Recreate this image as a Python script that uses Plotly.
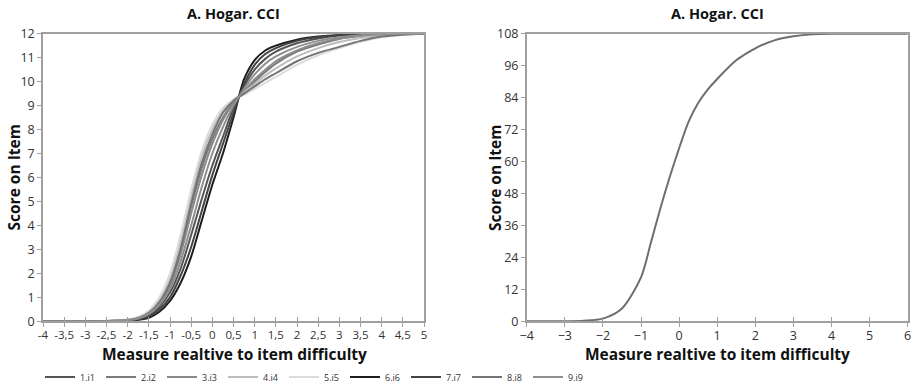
import plotly.graph_objects as go

# ---------------- data ----------------
x_grid = [-4, -3, -2.5, -2, -1.75, -1.5, -1.25, -1, -0.75, -0.5, -0.25, 0,
          0.25, 0.5, 0.75, 1, 1.25, 1.5, 2, 2.5, 3, 3.5, 4, 4.5, 5]

item_names = ["1.i1", "2.i2", "3.i3", "4.i4", "5.i5", "6.i6", "7.i7", "8.i8", "9.i9"]
item_colors = ["#555555", "#7a7a7a", "#8a8a8a", "#bdbdbd", "#dcdcdc",
               "#1e1e1e", "#444444", "#747474", "#8e8e8e"]

i1 = [0, 0, 0.01, 0.04, 0.10, 0.25, 0.60, 1.20, 2.20, 3.60, 5.10, 6.50,
      7.70, 8.90, 9.80, 10.50, 10.95, 11.25, 11.60, 11.80, 11.92, 11.97, 12, 12, 12]
i2 = [0, 0, 0.01, 0.06, 0.15, 0.35, 0.80, 1.60, 3.00, 4.80, 6.40, 7.60,
      8.50, 9.15, 9.60, 10.00, 10.40, 10.75, 11.25, 11.55, 11.78, 11.90, 11.96, 11.99, 12]
i3 = [0, 0, 0.01, 0.05, 0.13, 0.32, 0.75, 1.50, 2.80, 4.50, 6.10, 7.40,
      8.40, 9.10, 9.60, 10.10, 10.50, 10.85, 11.30, 11.60, 11.80, 11.92, 11.97, 12, 12]
i4 = [0, 0, 0.01, 0.06, 0.16, 0.40, 0.90, 1.80, 3.30, 5.20, 6.90, 8.00,
      8.80, 9.25, 9.55, 9.90, 10.25, 10.55, 11.05, 11.40, 11.65, 11.82, 11.93, 11.98, 12]
i5 = [0, 0, 0.02, 0.07, 0.18, 0.45, 1.00, 2.00, 3.60, 5.50, 7.10, 8.20,
      8.90, 9.25, 9.45, 9.70, 9.95, 10.20, 10.70, 11.10, 11.40, 11.65, 11.85, 11.95, 12]
i6 = [0, 0, 0, 0.02, 0.06, 0.15, 0.40, 0.85, 1.60, 2.70, 4.20, 5.70,
      7.00, 8.50, 10.10, 10.90, 11.30, 11.50, 11.75, 11.88, 11.95, 11.98, 12, 12, 12]
i7 = [0, 0, 0, 0.03, 0.08, 0.20, 0.50, 1.00, 1.90, 3.10, 4.60, 6.10,
      7.40, 8.70, 9.90, 10.70, 11.15, 11.40, 11.70, 11.86, 11.94, 11.98, 12, 12, 12]
i8 = [0, 0, 0.01, 0.05, 0.14, 0.35, 0.80, 1.60, 3.00, 4.90, 6.60, 7.80,
      8.70, 9.20, 9.50, 9.80, 10.10, 10.35, 10.85, 11.20, 11.45, 11.70, 11.88, 11.96, 12]
i9 = [0, 0, 0.01, 0.05, 0.12, 0.30, 0.70, 1.35, 2.50, 4.00, 5.60, 7.00,
      8.10, 9.00, 9.70, 10.30, 10.75, 11.05, 11.45, 11.70, 11.85, 11.94, 11.98, 12, 12]
items = [i1, i2, i3, i4, i5, i6, i7, i8, i9]

x_total = [-4, -3, -2.5, -2, -1.5, -1, -0.75, -0.5, -0.25, 0, 0.25, 0.5,
           0.75, 1, 1.5, 2, 2.5, 3, 3.5, 4, 5, 6]
y_total = [0, 0, 0.2, 1.0, 4.8, 16.5, 29, 42, 54, 65, 75, 82,
           87, 91, 98, 102.5, 105.5, 107, 107.8, 108, 108, 108]

left_xticks = [-4, -3.5, -3, -2.5, -2, -1.5, -1, -0.5, 0, 0.5, 1, 1.5, 2, 2.5, 3, 3.5, 4, 4.5, 5]
left_xlabels = ["-4", "-3,5", "-3", "-2,5", "-2", "-1,5", "-1", "-0,5", "0", "0,5",
                "1", "1,5", "2", "2,5", "3", "3,5", "4", "4,5", "5"]
left_yticks = list(range(0, 13))
right_xticks = list(range(-4, 7))
right_yticks = [0, 12, 24, 36, 48, 60, 72, 84, 96, 108]

title_text = "A. Hogar. CCI"
xtitle = "Measure realtive to item difficulty"
ytitle = "Score on Item"

# ---------------- figure ----------------
FONT = "Open Sans"
fig = go.Figure()

for name, col, ys in zip(item_names, item_colors, items):
    fig.add_trace(go.Scatter(x=x_grid, y=ys, name=name, mode="lines",
                             line=dict(color=col, width=2, shape="spline", smoothing=0.8),
                             xaxis="x", yaxis="y", showlegend=True))

fig.add_trace(go.Scatter(x=x_total, y=y_total, mode="lines", showlegend=False,
                         line=dict(color="#6e6e6e", width=2, shape="spline", smoothing=0.8),
                         xaxis="x2", yaxis="y2"))

axcol = "#a0a0a0"
tickfont_y = dict(family=FONT, size=12.5, color="#333333")
tickfont_x1 = dict(family=FONT, size=11.5, color="#333333")
tickfont_x2 = dict(family=FONT, size=12.5, color="#333333")
ydom = [1 - 321.3 / 388, 1 - 33.7 / 388]

common = dict(showgrid=False, zeroline=False, showline=True, linecolor=axcol,
              linewidth=1.5, mirror=True, ticks="outside", tickcolor=axcol,
              ticklen=4, tickwidth=1, automargin=False)
overlay = dict(showticklabels=False, ticks="inside", ticklen=4, tickcolor=axcol,
               tickwidth=1, showgrid=False, zeroline=False, showline=False,
               automargin=False)

fig.update_layout(
    width=917, height=388,
    margin=dict(l=0, r=0, t=0, b=0, autoexpand=False),
    paper_bgcolor="white", plot_bgcolor="white",
    xaxis=dict(domain=[43 / 917, 424 / 917], range=[-4, 5], anchor="y",
               tickvals=left_xticks, ticktext=left_xlabels, tickfont=tickfont_x1,
               ticklabelstandoff=-2, **common),
    yaxis=dict(domain=ydom, range=[0, 12], anchor="x", tickvals=left_yticks,
               tickfont=tickfont_y, **common),
    xaxis2=dict(domain=[526.7 / 917, 907.7 / 917], range=[-4, 6], anchor="y2",
                tickvals=right_xticks, tickfont=tickfont_x2, ticklabelstandoff=-2, **common),
    yaxis2=dict(domain=ydom, range=[0, 108], anchor="x2", tickvals=right_yticks,
                tickfont=tickfont_y, **common),
    xaxis3=dict(overlaying="x", range=[-4, 5], anchor="y", tickvals=left_xticks, **overlay),
    xaxis4=dict(overlaying="x2", range=[-4, 6], anchor="y2", tickvals=right_xticks, **overlay),
    legend=dict(orientation="h", x=40 / 917, y=1 - 377 / 388, xanchor="left", yanchor="middle",
                font=dict(family=FONT, size=9, color="#333333"),
                itemwidth=30, entrywidth=16, entrywidthmode="pixels",
                bgcolor="rgba(0,0,0,0)", tracegroupgap=0),
    showlegend=True,
)

# invisible helper traces so overlay axes are drawn
fig.add_trace(go.Scatter(x=[-4], y=[0], xaxis="x3", yaxis="y", mode="markers",
                         marker=dict(opacity=0), showlegend=False, hoverinfo="skip"))
fig.add_trace(go.Scatter(x=[-4], y=[0], xaxis="x4", yaxis="y2", mode="markers",
                         marker=dict(opacity=0), showlegend=False, hoverinfo="skip"))

titlefont = dict(family=FONT, size=14.5, color="#111111")
labfont = dict(family=FONT, size=15.5, color="#111111")
ann = [
    dict(text="<b>%s</b>" % title_text, x=233.5 / 917, y=1 - 14 / 388, font=titlefont),
    dict(text="<b>%s</b>" % title_text, x=717.5 / 917, y=1 - 14 / 388, font=titlefont),
    dict(text="<b>%s</b>" % xtitle, x=234 / 917, y=1 - 353.5 / 388, font=labfont),
    dict(text="<b>%s</b>" % xtitle, x=717.5 / 917, y=1 - 353.5 / 388, font=labfont),
    dict(text="<b>%s</b>" % ytitle, x=13.5 / 917, y=1 - 178 / 388, font=labfont, textangle=-90),
    dict(text="<b>%s</b>" % ytitle, x=495 / 917, y=1 - 178 / 388, font=labfont, textangle=-90),
]
for a in ann:
    a.update(xref="paper", yref="paper", showarrow=False, xanchor="center", yanchor="middle")
fig.update_layout(annotations=ann)

fig.write_html("out.html")
